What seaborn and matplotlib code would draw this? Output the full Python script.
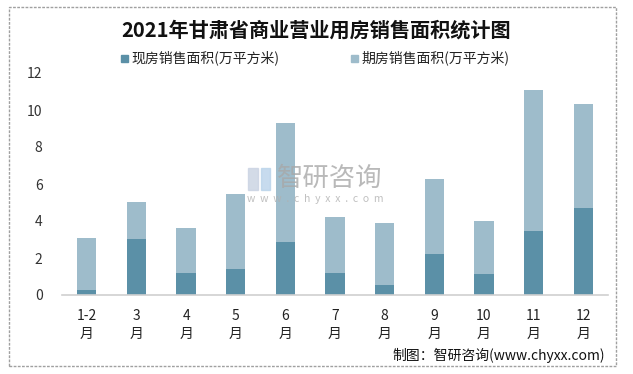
import matplotlib
matplotlib.use("Agg")
import matplotlib.pyplot as plt
import seaborn as sns
import pandas as pd
from matplotlib.patches import Rectangle

months = ["1-2\n月", "3\n月", "4\n月", "5\n月", "6\n月", "7\n月", "8\n月", "9\n月", "10\n月", "11\n月", "12\n月"]
existing = [0.27, 3.02, 1.19, 1.41, 2.86, 1.19, 0.54, 2.22, 1.14, 3.46, 4.70]
futures = [2.79, 2.01, 2.43, 4.05, 6.44, 3.03, 3.35, 4.05, 2.86, 7.62, 5.62]
yticks = [0, 2, 4, 6, 8, 10, 12]

sns.set_theme(style="white")
plt.rcParams['font.family'] = ['Noto Sans CJK SC', 'DejaVu Sans']

dark = "#5b90a7"
light = "#9ebccb"

df = pd.DataFrame({"month": months, "existing": existing, "futures": futures})
df["total"] = df["existing"] + df["futures"]

fig = plt.figure(figsize=(6.33, 3.74), dpi=100)
ax = fig.add_axes([62/633, 1-295/374, 546/633, 222/374])

sns.barplot(data=df, x="month", y="total", color=light, width=0.39, ax=ax,
            saturation=1, linewidth=0, label="期房销售面积(万平方米)")
sns.barplot(data=df, x="month", y="existing", color=dark, width=0.39, ax=ax,
            saturation=1, linewidth=0, label="现房销售面积(万平方米)")

ax.set_ylim(0, 12)
ax.set_xlim(-0.5, 10.5)
ax.set_yticks(yticks)
ax.set_yticklabels([str(v) for v in yticks], fontsize=10, color="#333333")
ax.tick_params(axis="y", length=0, pad=14)
ax.tick_params(axis="x", length=0, pad=10)
for lbl in ax.get_xticklabels():
    lbl.set_fontsize(10)
    lbl.set_color("#222222")
    lbl.set_linespacing(1.4)
ax.set_xlabel("")
ax.set_ylabel("")
for s in ["top", "right", "left"]:
    ax.spines[s].set_visible(False)
ax.spines["bottom"].set_color("#d0d0d0")
ax.spines["bottom"].set_linewidth(1.2)
if ax.get_legend():
    ax.get_legend().remove()

# title
fig.text(0.5, 1-30/374, "2021年甘肃省商业营业用房销售面积统计图", ha="center", va="center",
         fontsize=14.5, fontweight="bold", color="#111111")

# legend
fig.patches.append(Rectangle((121/633, 1-62/374), 7/633, 7/374, transform=fig.transFigure,
                             color=dark, figure=fig))
fig.text(131/633, 1-58/374, "现房销售面积(万平方米)", ha="left", va="center", fontsize=10, color="#222222")
fig.patches.append(Rectangle((351/633, 1-62/374), 7/633, 7/374, transform=fig.transFigure,
                             color=light, figure=fig))
fig.text(361/633, 1-58/374, "期房销售面积(万平方米)", ha="left", va="center", fontsize=10, color="#222222")

# watermark
fig.text(277/633, 1-178/374, "智研咨询", ha="left", va="center", fontsize=19, color="#a8a8a8", alpha=0.8)
fig.text(247/633, 1-199/374, "w  w  w  .  c  h  y  x  x  .  c  o  m", ha="left", va="center",
         fontsize=7.5, color="#b0b0b0", alpha=0.8)
fig.patches.append(Rectangle((248/633, 1-190/374), 10/633, 22/374, transform=fig.transFigure,
                             color="#c9d2e2", alpha=0.8, figure=fig))
fig.patches.append(Rectangle((261/633, 1-190/374), 9/633, 22/374, transform=fig.transFigure,
                             color="#b9d3ea", alpha=0.8, figure=fig))

# footer
fig.text(605/633, 1-355/374, "制图：智研咨询(www.chyxx.com)", ha="right", va="center", fontsize=10, color="#111111")

# outer border
fig.patches.append(Rectangle((9/633, 1-366/374), 607/633, 359/374, transform=fig.transFigure,
                             fill=False, edgecolor="#a0a0a0", linestyle=(0, (2, 1)), linewidth=1, figure=fig))

fig.savefig("out.png", dpi=100)
